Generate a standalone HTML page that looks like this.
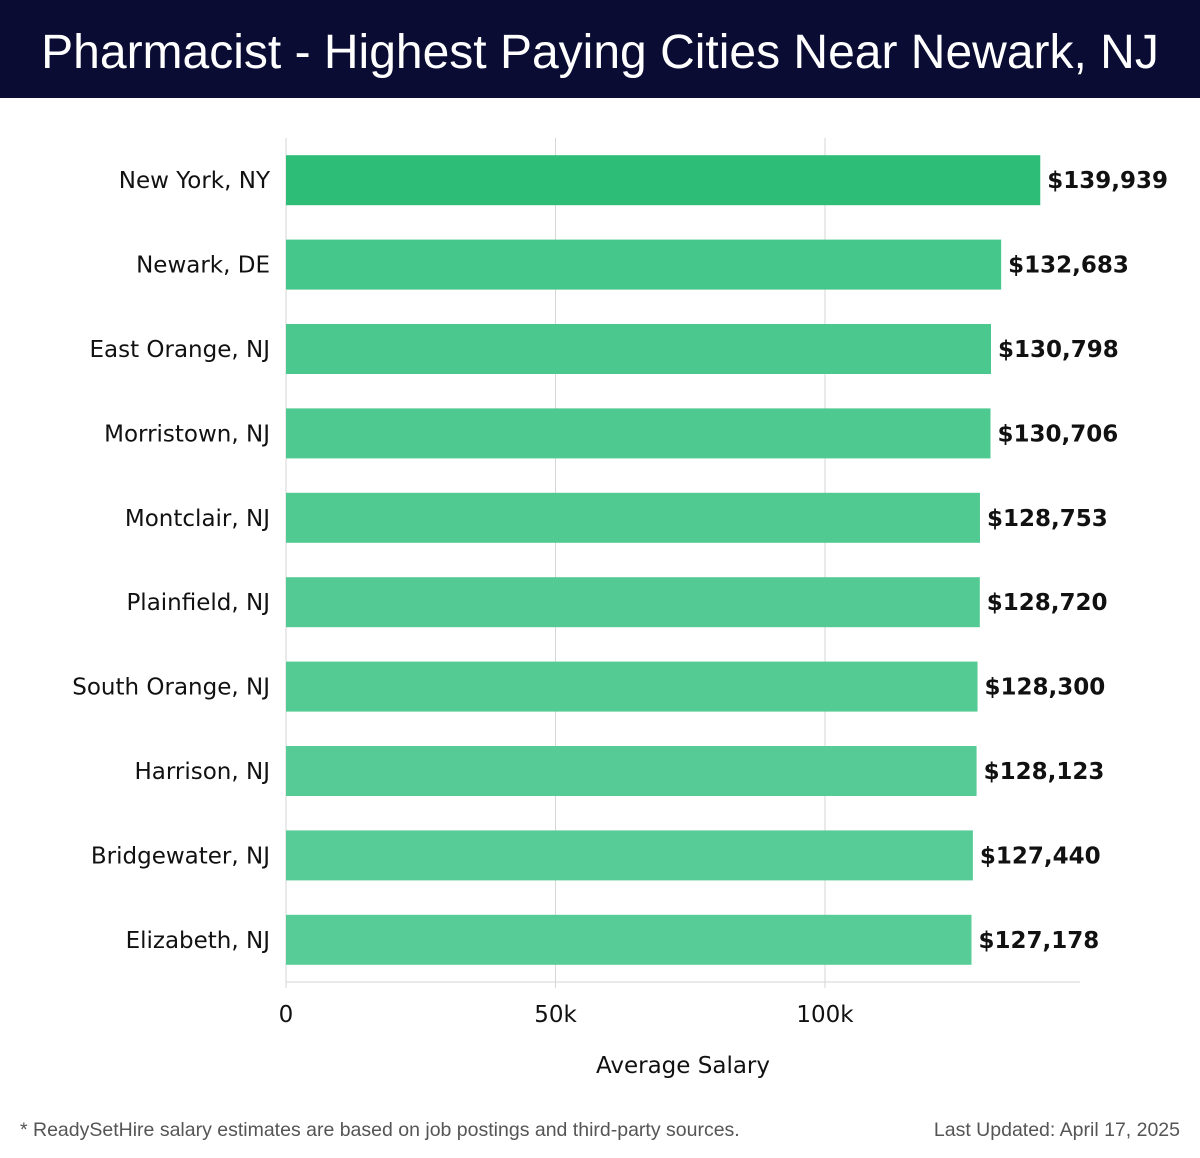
<!DOCTYPE html>
<html><head><meta charset="utf-8"><style>
body{margin:0;width:1200px;height:1158px;background:#fff;font-family:"Liberation Sans","DejaVu Sans",sans-serif;overflow:hidden;position:relative}
#hdr{position:absolute;left:0;top:0;width:1200px;height:98px;background:#0a0c33;color:#fff;font-size:48px;text-align:center;line-height:106px}
.foot{position:absolute;top:1119px;font-size:19.5px;color:#555}
svg text{font-family:"DejaVu Sans",sans-serif}
</style></head><body>
<div id="hdr">Pharmacist - Highest Paying Cities Near Newark, NJ</div>
<svg id="chart" width="1200" height="1100" style="position:absolute;left:0;top:0"></svg>
<div class="foot" style="left:20px">* ReadySetHire salary estimates are based on job postings and third-party sources.</div>
<div class="foot" style="right:20px">Last Updated: April 17, 2025</div>
<script>
const categories=["New York, NY","Newark, DE","East Orange, NJ","Morristown, NJ","Montclair, NJ","Plainfield, NJ","South Orange, NJ","Harrison, NJ","Bridgewater, NJ","Elizabeth, NJ"];
const salaries=[139939,132683,130798,130706,128753,128720,128300,128123,127440,127178];
const tickValues=[0,50000,100000];
const tickLabels=["0","50k","100k"];
const colors=["#2dbd76","#45c68a","#4bc88e","#4ec990","#51ca92","#53ca93","#55cb94","#56cb95","#57cc96","#58cc96"];
const NS="http://www.w3.org/2000/svg";
const svg=document.getElementById('chart');
const x0=286,pxPer=269.5/50000,plotTop=138,band=84.4,barH=50,axisY=982,axisEnd=1080;
const xs=v=>x0+v*pxPer;
const ys=i=>plotTop+i*band+(band-barH)/2;
function mk(t,a){const e=document.createElementNS(NS,t);for(const k in a)e.setAttribute(k,a[k]);svg.appendChild(e);return e;}
tickValues.forEach((v,i)=>{
  const g=mk('line',{x1:xs(v),x2:xs(v),y1:plotTop,y2:988,stroke:'#d6d6d6','stroke-width':1});
  
  
  const t=mk('text',{x:xs(v),y:1022,'text-anchor':'middle','font-size':23,fill:'#111'});
  t.textContent=tickLabels[i];
  
  
});
const ax=mk('line',{x1:x0,x2:axisEnd,y1:axisY,y2:axisY,stroke:'#d6d6d6','stroke-width':1});


categories.forEach((c,i)=>{
  const y=ys(i);
  const r=mk('rect',{x:x0,y:y,width:xs(salaries[i])-x0,height:barH,fill:colors[i]});
  
  
  const l=mk('text',{x:270,y:y+barH/2+8,'text-anchor':'end','font-size':23,fill:'#111'});
  l.textContent=c;
  
  
  const v=mk('text',{x:xs(salaries[i])+7,y:y+barH/2+8,'font-size':23,'font-weight':'bold',fill:'#111'});
  v.textContent='$'+salaries[i].toLocaleString('en-US');
  
  
});
const at=mk('text',{x:683,y:1073,'text-anchor':'middle','font-size':23,fill:'#111'});
at.textContent='Average Salary';


</script>
</body></html>
